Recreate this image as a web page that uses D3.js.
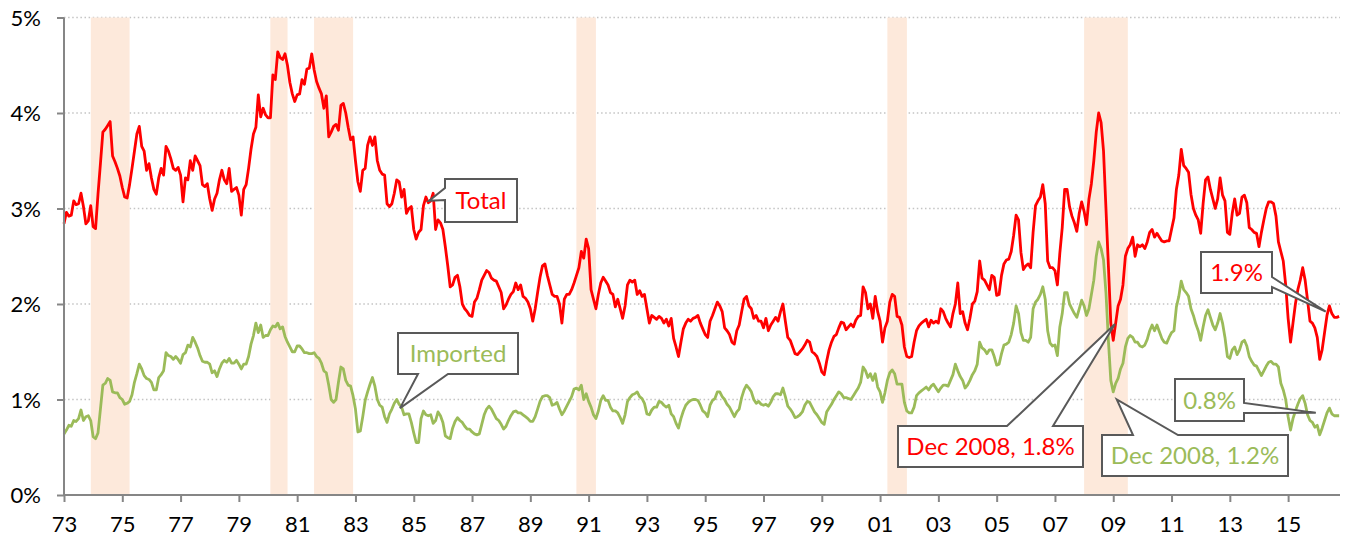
<!DOCTYPE html>
<html><head><meta charset="utf-8">
<script src="https://cdn.jsdelivr.net/npm/d3@7"></script>
<style>body{margin:0;background:#fff} svg{display:block;font-family:Lato,"Open Sans",sans-serif}</style>
</head><body><svg id="c" width="1349" height="542"></svg>
<script>
// Monthly series, starting January 1973 (percent)
const startYear = 1973;
const total = [
2.84,2.96,2.92,2.93,3.08,3.04,3.05,3.16,3.02,2.84,2.87,3.03,
2.81,2.79,3.15,3.47,3.80,3.83,3.87,3.91,3.55,3.49,3.42,3.34,
3.22,3.12,3.11,3.25,3.42,3.60,3.78,3.86,3.65,3.60,3.40,3.47,
3.32,3.20,3.15,3.32,3.42,3.35,3.65,3.60,3.52,3.42,3.40,3.43,
3.35,3.07,3.32,3.30,3.50,3.40,3.55,3.50,3.45,3.25,3.23,3.26,
3.10,2.98,3.10,3.16,3.30,3.40,3.30,3.26,3.42,3.18,3.20,3.22,
3.14,2.93,3.20,3.25,3.42,3.62,3.78,3.85,4.19,3.96,4.05,3.98,
3.95,3.95,4.40,4.35,4.64,4.58,4.56,4.62,4.50,4.32,4.20,4.12,
4.19,4.20,4.35,4.30,4.46,4.47,4.62,4.45,4.33,4.26,4.20,4.05,
4.18,3.75,3.80,3.86,3.88,3.82,4.08,4.10,4.00,3.85,3.72,3.75,
3.50,3.28,3.18,3.40,3.42,3.66,3.75,3.66,3.75,3.50,3.40,3.36,
3.35,3.05,3.02,3.05,3.16,3.30,3.28,3.12,3.20,2.95,3.00,3.02,
2.78,2.68,2.75,2.78,3.03,3.12,3.06,3.08,3.16,2.78,2.88,2.85,
2.78,2.60,2.40,2.18,2.20,2.28,2.30,2.18,2.00,1.95,1.92,1.88,
1.87,2.02,2.06,2.15,2.25,2.30,2.35,2.33,2.27,2.25,2.24,2.18,
2.12,1.95,1.99,2.05,2.10,2.13,2.22,2.15,2.20,2.08,2.06,2.02,
1.95,1.82,1.95,2.12,2.28,2.40,2.42,2.30,2.20,2.10,2.08,2.08,
2.00,1.80,2.05,2.10,2.10,2.15,2.22,2.30,2.38,2.55,2.48,2.68,
2.58,2.15,2.05,1.95,2.10,2.22,2.28,2.24,2.20,2.12,2.10,1.97,
2.05,1.95,1.85,1.98,2.20,2.25,2.23,2.25,2.10,2.14,2.08,2.10,
1.95,1.80,1.88,1.86,1.84,1.87,1.85,1.80,1.84,1.77,1.85,1.64,
1.55,1.45,1.60,1.74,1.80,1.84,1.82,1.85,1.86,1.88,1.80,1.74,
1.68,1.65,1.82,1.88,1.95,2.02,1.98,1.92,1.75,1.72,1.68,1.60,
1.58,1.72,1.78,1.92,2.05,2.08,1.98,1.95,1.85,1.88,1.82,1.82,
1.75,1.85,1.72,1.78,1.82,1.86,1.82,1.92,2.00,1.82,1.65,1.62,
1.55,1.48,1.47,1.50,1.53,1.57,1.62,1.60,1.50,1.48,1.45,1.38,
1.29,1.26,1.40,1.52,1.60,1.66,1.68,1.75,1.81,1.80,1.73,1.76,
1.79,1.76,1.83,1.87,1.88,2.18,2.12,1.95,2.00,1.85,2.08,1.92,
1.82,1.60,1.75,1.82,2.02,2.10,2.08,1.87,1.86,1.78,1.55,1.45,
1.44,1.45,1.60,1.72,1.77,1.80,1.82,1.84,1.76,1.83,1.80,1.82,
1.80,1.95,1.92,1.85,1.80,1.76,1.90,2.00,2.22,1.90,1.92,1.80,
1.73,1.85,2.00,2.03,2.13,2.45,2.27,2.25,2.20,2.15,2.30,2.28,
2.09,2.10,2.30,2.42,2.46,2.47,2.55,2.72,2.93,2.88,2.54,2.36,
2.40,2.42,2.38,2.75,3.03,3.08,3.12,3.25,3.05,2.45,2.38,2.38,
2.35,2.20,2.53,2.80,3.20,3.20,3.02,2.92,2.85,2.76,2.95,3.07,
2.97,2.83,3.10,3.26,3.50,3.80,4.00,3.90,3.60,3.00,2.40,1.80,
1.62,1.80,1.98,2.05,2.20,2.50,2.58,2.62,2.70,2.50,2.62,2.60,
2.62,2.58,2.65,2.75,2.78,2.70,2.74,2.70,2.66,2.65,2.66,2.66,
2.78,2.90,3.20,3.35,3.62,3.45,3.42,3.38,3.15,3.00,2.93,2.88,
2.74,3.05,3.30,3.33,3.20,3.10,3.00,3.10,3.32,3.14,3.08,2.75,
2.73,2.95,3.10,2.93,2.95,3.12,3.14,3.06,2.80,2.78,2.75,2.74,
2.60,2.75,2.88,3.00,3.07,3.07,3.05,2.92,2.65,2.55,2.45,2.20,
1.85,1.60,1.80,2.00,2.15,2.25,2.38,2.25,2.04,1.82,1.80,1.75,
1.65,1.42,1.52,1.70,1.88,1.98,1.90,1.86,1.86,1.87
];
const imported = [
0.64,0.68,0.73,0.72,0.78,0.77,0.80,0.89,0.78,0.82,0.83,0.78,
0.61,0.59,0.65,0.90,1.15,1.17,1.22,1.20,1.08,1.07,1.07,1.02,
1.00,0.95,0.96,0.98,1.05,1.18,1.27,1.37,1.32,1.25,1.22,1.21,
1.18,1.10,1.10,1.23,1.26,1.30,1.49,1.46,1.45,1.42,1.45,1.42,
1.38,1.47,1.49,1.57,1.55,1.65,1.60,1.54,1.46,1.40,1.39,1.39,
1.37,1.28,1.30,1.24,1.32,1.38,1.41,1.39,1.43,1.38,1.38,1.41,
1.37,1.32,1.37,1.37,1.45,1.58,1.67,1.80,1.70,1.78,1.65,1.67,
1.67,1.73,1.77,1.76,1.80,1.74,1.76,1.66,1.60,1.55,1.50,1.50,
1.56,1.56,1.53,1.49,1.49,1.48,1.48,1.49,1.45,1.43,1.38,1.30,
1.28,1.15,1.00,0.97,1.00,1.18,1.34,1.32,1.20,1.15,1.14,1.04,
0.90,0.66,0.67,0.82,0.99,1.08,1.16,1.23,1.14,1.00,0.94,0.92,
0.82,0.76,0.85,0.90,0.96,1.00,0.95,0.92,0.84,0.85,0.85,0.76,
0.65,0.55,0.55,0.80,0.88,0.84,0.83,0.84,0.75,0.78,0.87,0.83,
0.76,0.62,0.60,0.59,0.70,0.77,0.81,0.78,0.76,0.72,0.69,0.69,
0.66,0.64,0.63,0.64,0.74,0.84,0.90,0.93,0.90,0.85,0.80,0.78,
0.74,0.69,0.72,0.78,0.83,0.87,0.88,0.86,0.86,0.84,0.82,0.80,
0.77,0.77,0.82,0.90,0.98,1.03,1.04,1.04,1.02,0.94,0.95,0.97,
0.90,0.84,0.88,0.93,0.98,1.03,1.11,1.12,1.10,1.15,1.00,1.06,
0.98,0.92,0.84,0.80,0.88,0.99,1.04,0.99,0.99,0.92,0.88,0.88,
0.86,0.81,0.75,0.84,0.98,1.02,1.05,1.06,1.08,1.03,1.01,0.96,
0.85,0.84,0.89,0.92,0.92,0.98,0.97,0.94,0.92,0.94,0.85,0.82,
0.75,0.70,0.80,0.88,0.94,0.97,0.99,1.00,1.00,0.99,0.94,0.88,
0.86,0.82,0.94,0.99,1.01,1.08,1.08,1.03,1.00,0.95,0.92,0.87,
0.82,0.87,0.90,1.02,1.10,1.15,1.12,1.08,1.00,0.96,0.98,0.95,
0.94,0.95,0.93,0.97,1.03,1.06,1.06,1.05,1.12,1.03,0.93,0.90,
0.86,0.81,0.82,0.84,0.87,0.94,0.98,0.97,0.92,0.87,0.84,0.80,
0.76,0.74,0.87,0.91,0.95,1.00,1.04,1.08,1.06,1.02,1.02,1.01,
1.00,1.04,1.08,1.12,1.18,1.34,1.30,1.23,1.27,1.20,1.27,1.13,
1.08,0.97,1.07,1.20,1.28,1.31,1.27,1.16,1.16,1.16,0.97,0.88,
0.86,0.86,0.92,1.04,1.07,1.09,1.11,1.13,1.10,1.14,1.16,1.12,
1.08,1.12,1.15,1.15,1.14,1.20,1.26,1.37,1.30,1.24,1.20,1.12,
1.15,1.20,1.26,1.30,1.37,1.60,1.54,1.52,1.48,1.52,1.52,1.45,
1.36,1.37,1.48,1.57,1.58,1.60,1.68,1.80,1.98,1.90,1.70,1.62,
1.62,1.60,1.65,1.95,2.02,2.05,2.10,2.18,2.05,1.72,1.59,1.56,
1.57,1.46,1.76,1.90,2.12,2.12,2.00,1.95,1.90,1.86,1.95,2.04,
1.98,1.88,1.95,2.10,2.25,2.50,2.65,2.58,2.46,2.12,1.62,1.20,
1.08,1.17,1.22,1.32,1.38,1.55,1.64,1.67,1.65,1.60,1.60,1.56,
1.55,1.57,1.63,1.72,1.78,1.72,1.78,1.71,1.64,1.60,1.59,1.65,
1.70,1.72,1.97,2.08,2.24,2.15,2.12,2.08,1.95,1.88,1.79,1.72,
1.62,1.76,1.88,1.94,1.86,1.78,1.73,1.80,1.90,1.80,1.65,1.45,
1.43,1.52,1.55,1.47,1.52,1.60,1.62,1.56,1.45,1.40,1.36,1.35,
1.30,1.25,1.30,1.35,1.39,1.40,1.37,1.37,1.34,1.17,1.10,1.00,
0.82,0.68,0.80,0.88,0.95,1.01,1.04,0.96,0.84,0.78,0.76,0.71,
0.73,0.63,0.70,0.78,0.86,0.91,0.85,0.83,0.83,0.83
];
// Recession periods (fractional years)
const recessionStart = [1973.92, 1980.08, 1981.58, 1990.58, 2001.25, 2008.0];
const recessionEnd   = [1975.25, 1980.67, 1982.92, 1991.25, 2001.92, 2009.5];
const yTicks = [0, 1, 2, 3, 4, 5];
const yTickLabels = ["0%", "1%", "2%", "3%", "4%", "5%"];
const xTickYears = d3.range(1973, 2016, 2);
const xTickLabels = xTickYears.map(y => String(y % 100).padStart(2, "0"));
// Annotation texts and anchors (year, value)
const noteText  = ["Total", "Imported", "1.9%", "0.8%", "Dec 2008, 1.8%", "Dec 2008, 1.2%"];
const noteYear  = [1985.52, 1984.53, 2016.29, 2015.95, 2009.06, 2009.12];
const noteValue = [3.08, 0.91, 1.92, 0.86, 1.79, 1.00];
const noteSeries = ["total", "imported", "total", "imported", "total", "imported"];

const colors = {total: "#FF0000", imported: "#9BBB59"};
const svg = d3.select("#c");
const x = d3.scaleLinear().domain([1973, 2016.78]).range([64, 1340]);
const y = d3.scaleLinear().domain([0, 5]).range([495, 17.5]);

// gridlines
svg.append("g").selectAll("line").data(yTicks.filter(d => d > 0)).join("line")
  .attr("x1", x.range()[0]).attr("x2", x.range()[1])
  .attr("y1", d => y(d)).attr("y2", d => y(d))
  .attr("stroke", "#c4c4c4").attr("stroke-width", 1.5).attr("stroke-dasharray", "1.5,2.6");

// recession bands
svg.append("g").selectAll("rect").data(recessionStart.map((s, i) => [s, recessionEnd[i]])).join("rect")
  .attr("x", d => x(d[0])).attr("width", d => x(d[1]) - x(d[0]))
  .attr("y", y(5)).attr("height", y(0) - y(5))
  .attr("fill", "#FDE9DB");

// lines
const line = d3.line().x((d, i) => x(startYear + i / 12)).y(d => y(d));
svg.append("path").datum(imported).attr("d", line).attr("fill", "none")
  .attr("stroke", colors.imported).attr("stroke-width", 2.8).attr("stroke-linejoin", "round");
svg.append("path").datum(total).attr("d", line).attr("fill", "none")
  .attr("stroke", colors.total).attr("stroke-width", 2.8).attr("stroke-linejoin", "round");

// axes
const axisColor = "#868686";
const yAxis = svg.append("g").attr("transform", `translate(${x.range()[0]},0)`)
  .call(d3.axisLeft(y).tickValues(yTicks).tickFormat((d, i) => yTickLabels[i]).tickSize(7).tickPadding(16));
const xAxis = svg.append("g").attr("transform", `translate(0,${y(0)})`)
  .call(d3.axisBottom(x).tickValues(xTickYears).tickFormat((d, i) => xTickLabels[i]).tickSize(7).tickPadding(14));
[yAxis, xAxis].forEach(g => {
  g.select(".domain").attr("stroke", axisColor).attr("stroke-width", 2);
  g.selectAll(".tick line").attr("stroke", axisColor).attr("stroke-width", 2);
  g.selectAll("text").attr("fill", "#000").style("font-size", "22px").style("font-family", "Lato");
});
yAxis.select(".domain").attr("d", `M0,${y(0)}V${y(5)}`);
yAxis.selectAll(".tick text").attr("dy", "0.36em");
xAxis.select(".domain").attr("d", `M${x.range()[0]},0H${x.range()[1]}`);

// callouts
const boxes = [
  {x: 445, y: 179, w: 72, h: 43, side: "left", a: 188, b: 200},
  {x: 398, y: 333, w: 120, h: 41, side: "bottom", a: 418, b: 448},
  {x: 1201, y: 252, w: 71, h: 41, side: "right", a: 277, b: 287},
  {x: 1175, y: 379, w: 69, h: 42, side: "right", a: 403, b: 413},
  {x: 898, y: 426, w: 185, h: 41, side: "top", a: 1007, b: 1053},
  {x: 1102, y: 435, w: 186, h: 41, side: "top", a: 1133, b: 1178}
];
function calloutPath(bx, tx, ty) {
  const {x: X, y: Y, w, h, side, a, b} = bx;
  let p;
  if (side === "left") p = [[X,Y],[X+w,Y],[X+w,Y+h],[X,Y+h],[X,b],[tx,ty],[X,a]];
  else if (side === "right") p = [[X,Y],[X+w,Y],[X+w,a],[tx,ty],[X+w,b],[X+w,Y+h],[X,Y+h]];
  else if (side === "top") p = [[X,Y],[a,Y],[tx,ty],[b,Y],[X+w,Y],[X+w,Y+h],[X,Y+h]];
  else p = [[X,Y],[X+w,Y],[X+w,Y+h],[b,Y+h],[tx,ty],[a,Y+h],[X,Y+h]];
  return "M" + p.map(q => q.join(",")).join("L") + "Z";
}
const notes = svg.append("g");
noteText.forEach((t, i) => {
  const bx = boxes[i];
  notes.append("path").attr("d", calloutPath(bx, x(noteYear[i]), y(noteValue[i])))
    .attr("fill", "#fff").attr("stroke", "#595959").attr("stroke-width", 2).attr("stroke-linejoin", "miter");
  notes.append("text").attr("x", bx.x + bx.w / 2).attr("y", bx.y + bx.h / 2 + 8.5)
    .attr("text-anchor", "middle").attr("fill", colors[noteSeries[i]])
    .style("font-size", "24px").style("font-family", "Lato").text(t);
});
</script></body></html>
